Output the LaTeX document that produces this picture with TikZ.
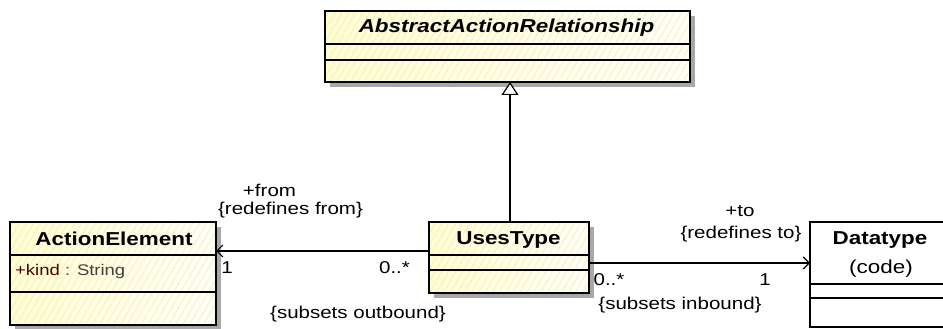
\documentclass[tikz,border=0pt]{standalone}
\usepackage{fontspec}
\setmainfont{Liberation Sans}[FakeStretch=1.2]
\usetikzlibrary{arrows.meta,shadows,patterns.meta}
\definecolor{fillL}{RGB}{255,253,205}
\definecolor{fillR}{RGB}{255,255,244}
\definecolor{hatch}{RGB}{236,234,212}
\definecolor{shade}{RGB}{168,168,168}
\definecolor{attrred}{RGB}{80,0,0}
\definecolor{attrgray}{RGB}{64,64,64}
\tikzset{
  classbox/.style={inner sep=0pt, outer sep=0pt,
    left color=fillL, right color=fillR,
    drop shadow={shadow xshift=5pt, shadow yshift=-5pt, fill=shade, opacity=1},
    postaction={pattern={Lines[angle=60,distance=6pt,line width=0.6pt]}, pattern color=hatch},
    postaction={draw, line width=1.3pt}},
  plainbox/.style={draw, line width=1.3pt, fill=white, inner sep=0pt, outer sep=0pt},
  divider/.style={line width=1.1pt},
  ttl/.style={anchor=base, inner sep=0pt, font=\fontsize{18.7}{21}\selectfont\bfseries},
  attr/.style={anchor=base west, inner sep=0pt, font=\fontsize{15.4}{18}\selectfont},
  lbl/.style={anchor=base, inner sep=0pt, font=\fontsize{17.1}{20}\selectfont},
  assoc/.style={line width=1.2pt, -{Straight Barb[length=6pt,width=12pt,line width=1.2pt]}},
  gen/.style={line width=1.2pt, -{Triangle[open,length=13pt,width=17pt,line width=1.2pt,fill=white]}}
}
\begin{document}
\begin{tikzpicture}[x=1pt,y=-1pt]
\path[use as bounding box, clip] (0,0) rectangle (943,329);
\fill[white] (0,0) rectangle (943,329);
% boxes
\node[classbox, minimum width=365pt, minimum height=71pt] (aar) at (507.5,46.5) {};
\node[classbox, minimum width=206pt, minimum height=103pt] (ae) at (113,273.5) {};
\node[classbox, minimum width=160pt, minimum height=71pt] (uses) at (509,257.5) {};
\node[plainbox, minimum width=180pt, minimum height=105pt] (dt) at (900,274.5) {};
% dividers
\draw[divider] (aar.west |- 0,44) -- (aar.east |- 0,44);
\draw[divider] (aar.west |- 0,60) -- (aar.east |- 0,60);
\draw[divider] (ae.west |- 0,255) -- (ae.east |- 0,255);
\draw[divider] (ae.west |- 0,292) -- (ae.east |- 0,292);
\draw[divider] (uses.west |- 0,255) -- (uses.east |- 0,255);
\draw[divider] (uses.west |- 0,270) -- (uses.east |- 0,270);
\draw[divider] (dt.west |- 0,284) -- (dt.east |- 0,284);
\draw[divider] (dt.west |- 0,298) -- (dt.east |- 0,298);
% titles
\node[ttl, font=\fontsize{18.7}{21}\selectfont\bfseries\itshape] (aart) at (506.5,32.7) {AbstractActionRelationship};
\node[ttl] (aet) at (114,245) {ActionElement};
\node[ttl] (usest) at (508.5,244.3) {UsesType};
\node[ttl] (dtt) at (880,244.3) {Datatype};
\node[lbl, font=\fontsize{18.7}{21}\selectfont] (dtc) at (881,273) {(code)};
\node[attr] (kind) at (15,275.7) {\textcolor{attrred}{+kind}\ \textcolor{attrgray}{: String}};
% connectors
\draw[gen] (uses.north -| 510,0) -- (aar.south -| 510,0);
\draw[assoc] (uses.west |- 0,251) -- (ae.east |- 0,251);
\draw[assoc] (uses.east |- 0,263) -- (dt.west |- 0,263);
% labels
\node[lbl] (from) at (269.5,196) {+from};
\node[lbl] (redfrom) at (290.5,214.7) {\{redefines from\}};
\node[lbl] (m1) at (227,273) {1};
\node[lbl] (m2) at (394.5,273) {0..*};
\node[lbl] (subout) at (358,318.4) {\{subsets outbound\}};
\node[lbl] (to) at (740,216) {+to};
\node[lbl] (redto) at (741,238.7) {\{redefines to\}};
\node[lbl] (m3) at (609,285) {0..*};
\node[lbl] (m4) at (765,285) {1};
\node[lbl] (subin) at (680,309.7) {\{subsets inbound\}};
\end{tikzpicture}
\end{document}
